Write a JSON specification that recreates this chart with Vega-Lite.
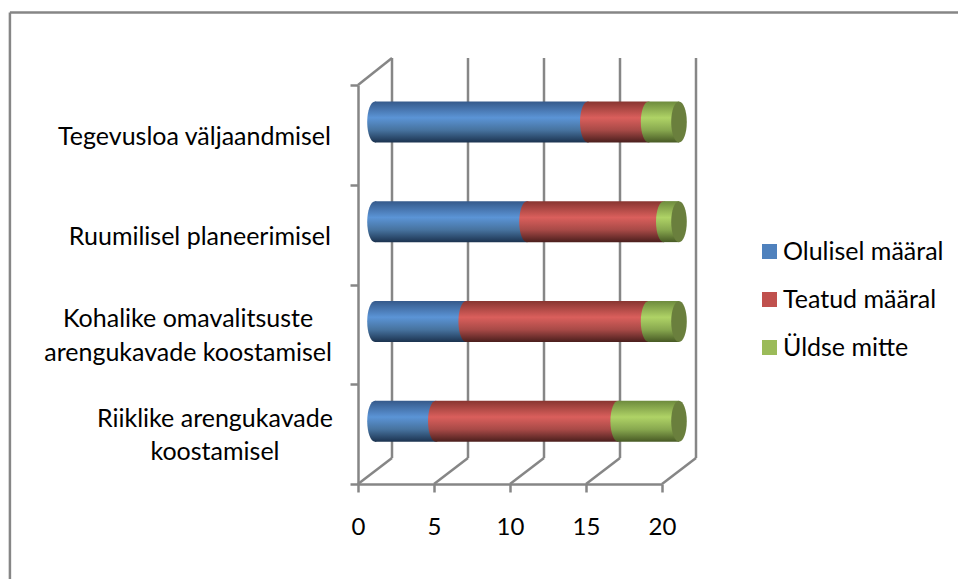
{"$schema":"https://vega.github.io/schema/vega-lite/v6.json","width":304,"height":399,"autosize":{"type":"none"},"padding":{"left":358,"top":85,"right":296,"bottom":95},"background":"white","config":{"view":{"stroke":null},"font":"Lato"},
"datasets":{"main":[
{"cat":"Tegevusloa väljaandmisel","series":"Olulisel määral","value":14},{"cat":"Tegevusloa väljaandmisel","series":"Teatud määral","value":4},{"cat":"Tegevusloa väljaandmisel","series":"Üldse mitte","value":2},
{"cat":"Ruumilisel planeerimisel","series":"Olulisel määral","value":10},{"cat":"Ruumilisel planeerimisel","series":"Teatud määral","value":9},{"cat":"Ruumilisel planeerimisel","series":"Üldse mitte","value":1},
{"cat":"Kohalike omavalitsuste\narengukavade koostamisel","series":"Olulisel määral","value":6},{"cat":"Kohalike omavalitsuste\narengukavade koostamisel","series":"Teatud määral","value":12},{"cat":"Kohalike omavalitsuste\narengukavade koostamisel","series":"Üldse mitte","value":2},
{"cat":"Riiklike arengukavade\nkoostamisel","series":"Olulisel määral","value":4},{"cat":"Riiklike arengukavade\nkoostamisel","series":"Teatud määral","value":12},{"cat":"Riiklike arengukavade\nkoostamisel","series":"Üldse mitte","value":4}],
"ticks":[{"t":0},{"t":5},{"t":10},{"t":15},{"t":20}]},
"layer":[
{"layer":[
{"data":{"name":"ticks"},"mark":{"type":"rule","stroke":"#868686","strokeWidth":2.5,"x2Offset":34},"encoding":{"x":{"field":"t","type":"quantitative","scale":{"domain":[0,20],"nice":false},"axis":{"values":[0,5,10,15,20],"title":null,"grid":false,"domainColor":"#868686","domainWidth":2.5,"tickColor":"#868686","tickWidth":2.5,"tickSize":8,"labelFontSize":24,"labelColor":"#000000","labelPadding":23,"labelFlush":false,"labelFont":"Lato"}},"x2":{"field":"t"},"y":{"datum":0,"type":"quantitative","scale":{"domain":[0,4],"nice":false},"axis":null},"y2":{"datum":0.26}}},
{"data":{"name":"ticks"},"mark":{"type":"rule","stroke":"#868686","strokeWidth":2.5,"xOffset":34,"x2Offset":34},"encoding":{"x":{"field":"t","type":"quantitative"},"x2":{"field":"t"},"y":{"datum":0.26,"type":"quantitative","scale":{"domain":[0,4],"nice":false},"axis":null},"y2":{"datum":4.27}}},
{"data":{"values":[{"t":0}]},"mark":{"type":"rule","stroke":"#868686","strokeWidth":2.5,"x2Offset":34},"encoding":{"x":{"field":"t","type":"quantitative"},"x2":{"field":"t"},"y":{"datum":4,"type":"quantitative","scale":{"domain":[0,4],"nice":false},"axis":null},"y2":{"datum":4.27}}},
{"data":{"values":[{"a":-22.9,"b":-22.9,"p":-0.952,"q":4.727},{"a":-22.9,"b":39.5,"p":4.727,"q":4.727}]},"mark":{"type":"rule","stroke":"#868686","strokeWidth":2.5},"encoding":{"x":{"field":"a","type":"quantitative"},"x2":{"field":"b"},"y":{"field":"p","type":"quantitative","scale":{"domain":[0,4],"nice":false},"axis":null},"y2":{"field":"q"}}}
]},
{"data":{"name":"main"},"transform":[{"stack":"value","groupby":["cat"],"sort":[{"field":"series"}],"as":["v0","v1"]}],
"encoding":{"y":{"field":"cat","type":"nominal","sort":null,"scale":{"domain":["Tegevusloa väljaandmisel","Ruumilisel planeerimisel","Kohalike omavalitsuste\narengukavade koostamisel","Riiklike arengukavade\nkoostamisel"],"paddingInner":0,"paddingOuter":0},"axis":{"title":null,"labels":false,"tickBand":"extent","domainColor":"#868686","domainWidth":2.5,"tickColor":"#868686","tickWidth":2.5,"tickSize":8}}},
"layer":[
{"mark":{"type":"bar","size":1},"encoding":{"x":{"datum":0,"type":"quantitative"},"x2":{"datum":0},"color":{"field":"series","type":"nominal","scale":{"domain":["Olulisel määral","Teatud määral","Üldse mitte"],"range":["#4f81bd","#c0504d","#9bbb59"]},"legend":{"orient":"none","legendX":399,"legendY":154,"title":null,"symbolType":"square","symbolSize":225,"symbolStrokeWidth":0,"labelFontSize":25,"labelColor":"#000000","labelFont":"Lato","rowPadding":22,"labelOffset":1,"labelLimit":300}}}},
{"transform":[{"filter":"datum.series === 'Olulisel määral'"}],"mark":{"type":"bar","size":41,"xOffset":17,"x2Offset":17,"yOffset":-13,"fill":{"gradient":"linear","x1":0,"y1":0,"x2":0,"y2":1,"stops":[{"offset":0,"color":"#35598a"},{"offset":0.4,"color":"#5b94d6"},{"offset":0.7,"color":"#47739f"},{"offset":1,"color":"#1c3350"}]}},"encoding":{"x":{"field":"v0","type":"quantitative"},"x2":{"field":"v1"}}},
{"transform":[{"filter":"datum.series === 'Olulisel määral'"}],"mark":{"type":"point","filled":true,"shape":"M-0.38,0A0.38,1,0,1,1,0.38,0A0.38,1,0,1,1,-0.38,0Z","size":1681,"opacity":1,"xOffset":17,"yOffset":-13,"fill":{"gradient":"linear","x1":0,"y1":0,"x2":0,"y2":1,"stops":[{"offset":0,"color":"#35598a"},{"offset":0.4,"color":"#5b94d6"},{"offset":0.7,"color":"#47739f"},{"offset":1,"color":"#1c3350"}]}},"encoding":{"x":{"field":"v0","type":"quantitative"}}},
{"transform":[{"filter":"datum.series === 'Teatud määral'"}],"mark":{"type":"bar","size":41,"xOffset":17,"x2Offset":17,"yOffset":-13,"fill":{"gradient":"linear","x1":0,"y1":0,"x2":0,"y2":1,"stops":[{"offset":0,"color":"#873530"},{"offset":0.4,"color":"#da5f5c"},{"offset":0.7,"color":"#a84a47"},{"offset":1,"color":"#4b1f1d"}]}},"encoding":{"x":{"field":"v0","type":"quantitative"},"x2":{"field":"v1"}}},
{"transform":[{"filter":"datum.series === 'Teatud määral'"}],"mark":{"type":"point","filled":true,"shape":"M-0.38,0A0.38,1,0,1,1,0.38,0A0.38,1,0,1,1,-0.38,0Z","size":1681,"opacity":1,"xOffset":17,"yOffset":-13,"fill":{"gradient":"linear","x1":0,"y1":0,"x2":0,"y2":1,"stops":[{"offset":0,"color":"#873530"},{"offset":0.4,"color":"#da5f5c"},{"offset":0.7,"color":"#a84a47"},{"offset":1,"color":"#4b1f1d"}]}},"encoding":{"x":{"field":"v0","type":"quantitative"}}},
{"transform":[{"filter":"datum.series === 'Üldse mitte'"}],"mark":{"type":"bar","size":41,"xOffset":17,"x2Offset":17,"yOffset":-13,"fill":{"gradient":"linear","x1":0,"y1":0,"x2":0,"y2":1,"stops":[{"offset":0,"color":"#6d8a3d"},{"offset":0.4,"color":"#afd366"},{"offset":0.7,"color":"#88a84f"},{"offset":1,"color":"#485a25"}]}},"encoding":{"x":{"field":"v0","type":"quantitative"},"x2":{"field":"v1"}}},
{"transform":[{"filter":"datum.series === 'Üldse mitte'"}],"mark":{"type":"point","filled":true,"shape":"M-0.38,0A0.38,1,0,1,1,0.38,0A0.38,1,0,1,1,-0.38,0Z","size":1681,"opacity":1,"xOffset":17,"yOffset":-13,"fill":{"gradient":"linear","x1":0,"y1":0,"x2":0,"y2":1,"stops":[{"offset":0,"color":"#6d8a3d"},{"offset":0.4,"color":"#afd366"},{"offset":0.7,"color":"#88a84f"},{"offset":1,"color":"#485a25"}]}},"encoding":{"x":{"field":"v0","type":"quantitative"}}},
{"transform":[{"filter":"datum.series === 'Üldse mitte'"}],"mark":{"type":"point","filled":true,"shape":"M-0.38,0A0.38,1,0,1,1,0.38,0A0.38,1,0,1,1,-0.38,0Z","size":1681,"opacity":1,"xOffset":17,"yOffset":-13,"fill":"#6a7f3d"},"encoding":{"x":{"field":"v1","type":"quantitative"}}},
{"transform":[{"filter":"datum.series === 'Üldse mitte' && indexof(datum.cat,'\\n') < 0"}],"mark":{"type":"text","align":"right","baseline":"middle","fontSize":25,"font":"Lato","color":"#000000","dy":2},"encoding":{"x":{"datum":-1.78,"type":"quantitative"},"text":{"field":"cat"}}},
{"transform":[{"filter":"datum.series === 'Üldse mitte' && indexof(datum.cat,'Kohalike') === 0"}],"mark":{"type":"text","align":"center","baseline":"middle","lineBreak":"\n","lineHeight":34,"fontSize":25,"font":"Lato","color":"#000000","dy":-15},"encoding":{"x":{"datum":-11.18,"type":"quantitative"},"text":{"field":"cat"}}},
{"transform":[{"filter":"datum.series === 'Üldse mitte' && indexof(datum.cat,'Riiklike') === 0"}],"mark":{"type":"text","align":"center","baseline":"middle","lineBreak":"\n","lineHeight":33,"fontSize":25,"font":"Lato","color":"#000000","dy":-15},"encoding":{"x":{"datum":-9.41,"type":"quantitative"},"text":{"field":"cat"}}}
]}
],"resolve":{"scale":{"y":"independent"},"axis":{"y":"independent"}}}
